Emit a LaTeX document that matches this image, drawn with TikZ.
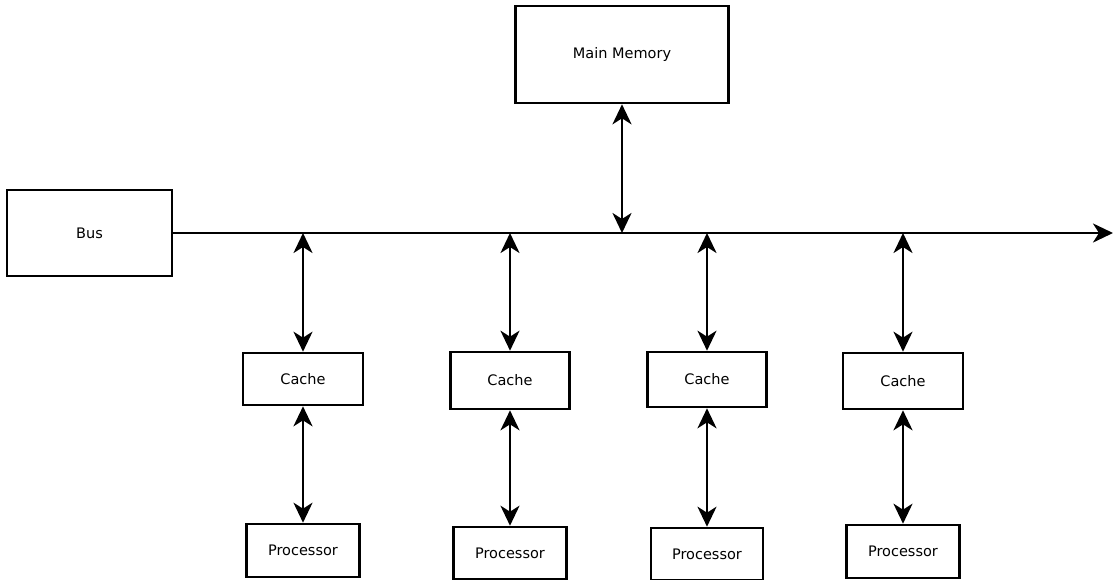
\documentclass[tikz,border=0pt]{standalone}
\usepackage{fontspec}
\setmainfont{DejaVu Sans}
\usetikzlibrary{arrows.meta}

\begin{document}
\begin{tikzpicture}[x=1pt, y=-1pt,
    box/.style={draw, line width=2.6pt, font=\fontsize{14.5}{16}\selectfont, inner sep=0pt},
    link/.style={line width=2.6pt, {Stealth[length=20pt,width=19pt,inset=6pt]}-{Stealth[length=20pt,width=19pt,inset=6pt]}},
    busline/.style={line width=2.6pt, -{Stealth[length=20pt,width=19pt,inset=6pt]}}]
            \useasboundingbox (0,0) rectangle (1114,579);

            % Bus and main memory
            \node[box, minimum width=165pt, minimum height=86pt] (bus) at (89.5,233) {Bus};
            \node[box, minimum width=213pt, minimum height=97pt] (mem) at (622,54.5) {Main Memory};
            \coordinate (busend) at (1113,233);
            \coordinate (tm) at (622,233);
            \draw[busline] (bus.east) -- (busend);
            \draw[link] (mem.south) -- (tm);

            % Caches
            \node[box, minimum width=120pt, minimum height=52pt] (c1) at (303,379) {Cache};
            \node[box, minimum width=119pt, minimum height=57pt] (c2) at (510,380.5) {Cache};
            \node[box, minimum width=119pt, minimum height=55pt] (c3) at (707,379.5) {Cache};
            \node[box, minimum width=120pt, minimum height=56pt] (c4) at (903,381) {Cache};

            % Processors
            \node[box, minimum width=113pt, minimum height=53pt] (p1) at (303,550.5) {Processor};
            \node[box, minimum width=113pt, minimum height=52pt] (p2) at (510,553) {Processor};
            \node[box, minimum width=112pt, minimum height=52pt] (p3) at (707,554) {Processor};
            \node[box, minimum width=113pt, minimum height=53pt] (p4) at (903,551.5) {Processor};

            % Taps on the bus
            \coordinate (t1) at (303,233);
            \coordinate (t2) at (510,233);
            \coordinate (t3) at (707,233);
            \coordinate (t4) at (903,233);
            \draw[link] (t1) -- (c1.north);
            \draw[link] (t2) -- (c2.north);
            \draw[link] (t3) -- (c3.north);
            \draw[link] (t4) -- (c4.north);

            % Cache to processor
            \draw[link] (c1.south) -- (p1.north);
            \draw[link] (c2.south) -- (p2.north);
            \draw[link] (c3.south) -- (p3.north);
            \draw[link] (c4.south) -- (p4.north);
        \end{tikzpicture}
\end{document}
